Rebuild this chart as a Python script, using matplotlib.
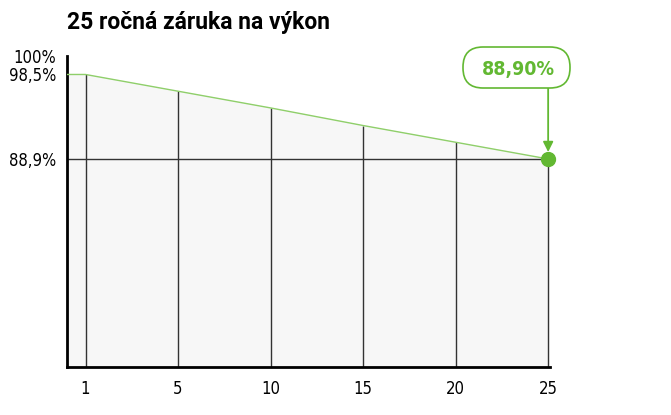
import matplotlib
matplotlib.use('Agg')
import matplotlib.pyplot as plt
from matplotlib.patches import FancyBboxPatch
from matplotlib.transforms import IdentityTransform

years = ['1', '5', '10', '15', '20', '25']
power = [98.5, 96.6, 94.7, 92.7, 90.8, 88.9]
ytick_labels = ['100%', '98,5%', '88,9%']
final_label = '88,90%'

green = '#62b832'
line_green = '#8fcf6a'
tick_font = dict(family='DejaVu Sans', stretch='condensed', size=12)

fig = plt.figure(figsize=(6.71, 4.15), dpi=100)
ax = fig.add_axes([67 / 671, 48 / 415, 483 / 671, 311 / 415])

x = list(range(len(years)))
x_left, x_right = -0.2, 5.02
y_bottom, y_top = 65.26, 100.6

# flat start at the left spine, then the warranty line
xs = [x_left] + x
ys = [power[0]] + power
ax.fill_between(xs, y_bottom, ys, color='#f7f7f7', zorder=1)
ax.plot(xs, ys, color=line_green, lw=1, zorder=3)

# drop lines from the line down to the axis
ax.vlines(x, y_bottom, power, color='#333333', lw=1, zorder=2)
ax.hlines(power[-1], x_left, x[-1], color='#333333', lw=1, zorder=2)

ax.plot(x[-1], power[-1], 'o', color=green, ms=10, zorder=5, clip_on=False)
ax.annotate('', xy=(x[-1], power[-1]), xytext=(0, 51), textcoords='offset points',
            arrowprops=dict(arrowstyle='-|>,head_length=0.6,head_width=0.3',
                            color=green, lw=1.3, shrinkA=0, shrinkB=5), zorder=4)

ax.set_xlim(x_left, x_right)
ax.set_ylim(y_bottom, y_top)
ax.set_xticks(x)
ax.set_xticklabels(years, **tick_font)
# 100% sits at the top end of the axis
ax.set_yticks([y_top, power[0], power[-1]])
ax.set_yticklabels(ytick_labels, **tick_font)
ax.tick_params(length=0, pad=9)
ax.tick_params(axis='y', pad=8)
for s in ['top', 'right']:
    ax.spines[s].set_visible(False)
ax.spines['left'].set_linewidth(2)
ax.spines['bottom'].set_linewidth(2)

# label box for the final value
box = FancyBboxPatch((463, 415 - 88), 107, 41, boxstyle='round,pad=0,rounding_size=20',
                     transform=IdentityTransform(), facecolor='white',
                     edgecolor=green, lw=1.2)
fig.add_artist(box)
fig.text(518 / 671, 1 - 69 / 415, final_label, color=green, ha='center', va='center',
         fontsize=14, fontweight='bold', family='DejaVu Sans', stretch='condensed')

fig.text(67 / 671, 1 - 22 / 415, '25 ročná záruka na výkon', fontsize=16.5,
         fontweight='bold', family='Roboto', va='center', ha='left')

fig.savefig('out.png', dpi=100)
